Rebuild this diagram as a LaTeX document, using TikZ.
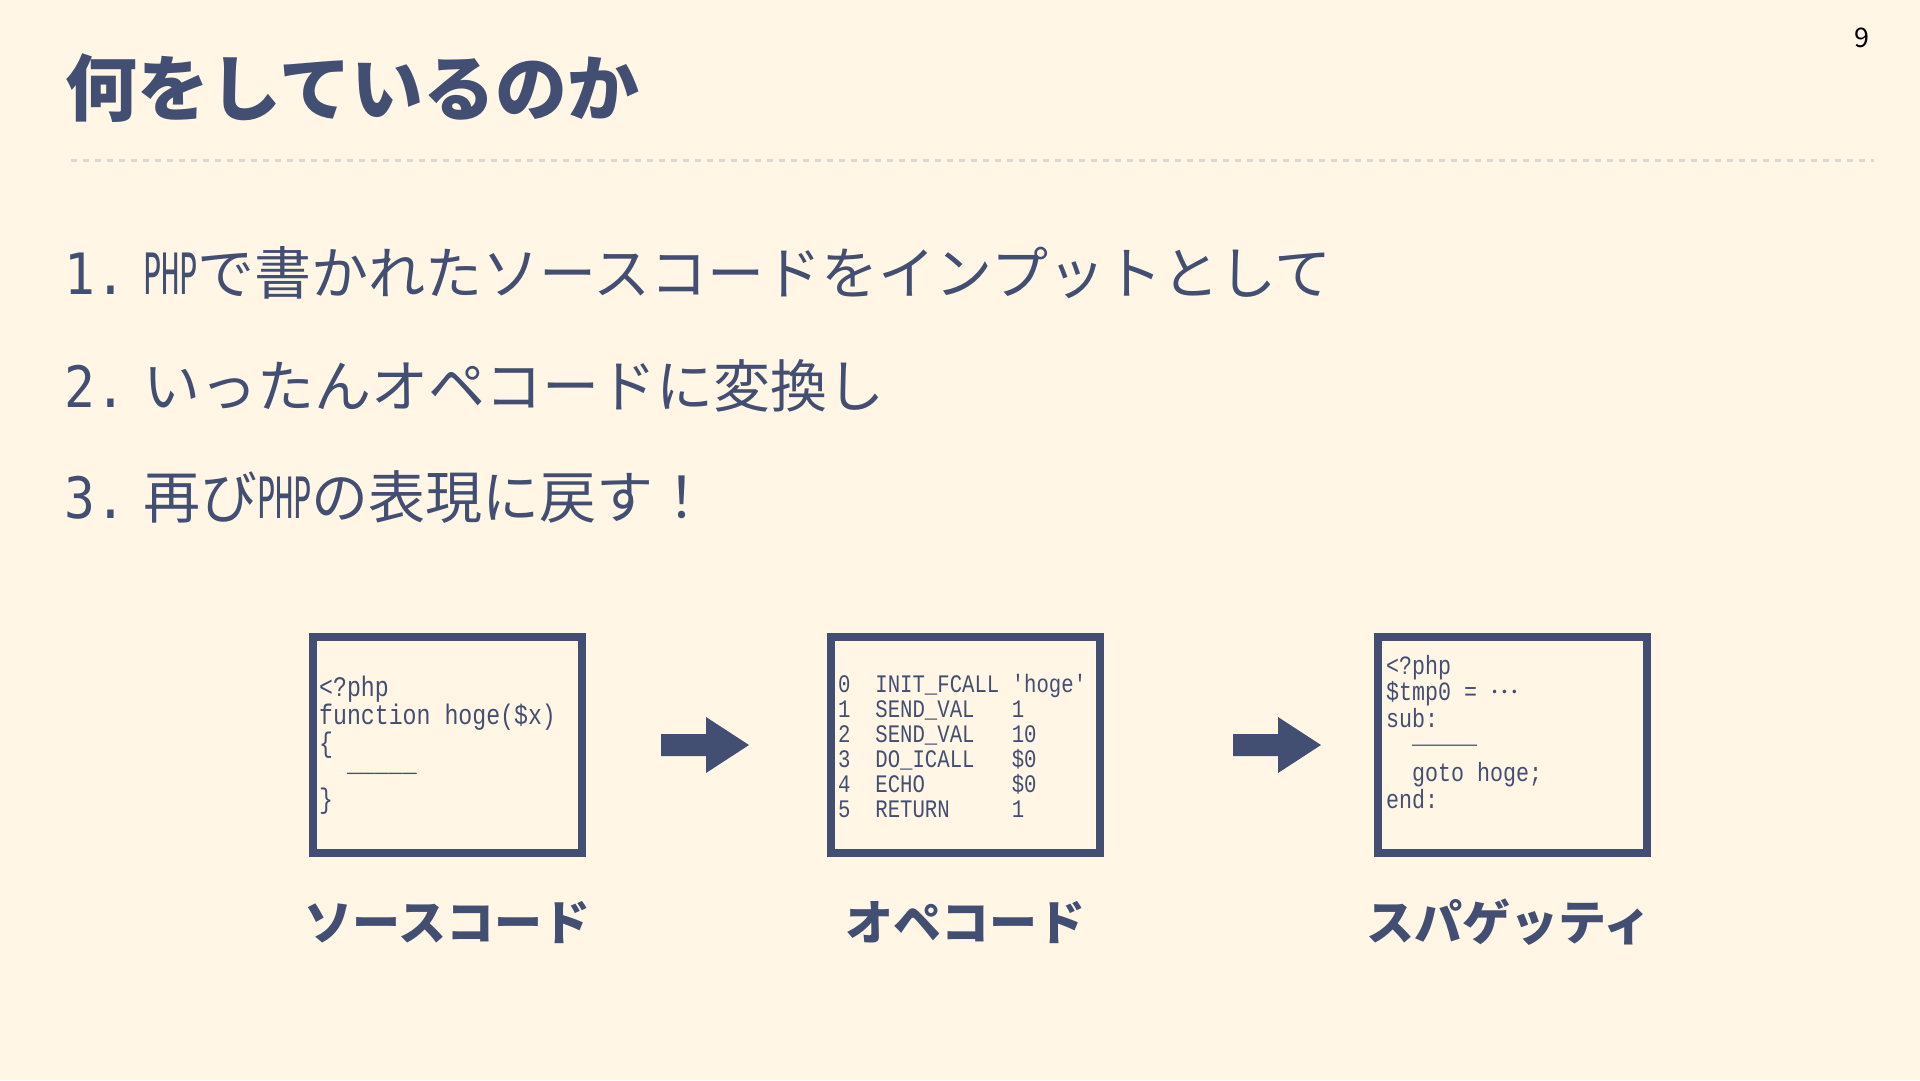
\documentclass[tikz,border=0pt]{standalone}
\usepackage{fontspec}
\setmainfont{Noto Sans CJK JP}
\newfontfamily\codefont{Liberation Mono}[FakeStretch=0.82]
\newfontfamily\listlatin{DejaVu Sans Mono}[FakeStretch=0.53]
\newfontfamily\listnum{DejaVu Sans Mono}[FakeStretch=0.9]
\definecolor{bg}{RGB}{255,246,229}
\definecolor{ink}{RGB}{67,78,115}
\definecolor{rulegray}{RGB}{218,216,210}
\newcommand\codelines[2]{\vtop{\baselineskip=#1\lineskiplimit=-1000pt\lineskip=0pt\relax #2}}
\begin{document}
\begin{tikzpicture}[x=1pt,y=-1pt,
  titletext/.style={anchor=base west,inner sep=0pt,text=ink,font=\bfseries\fontsize{72}{80}\selectfont},
  listitem/.style={anchor=base west,inner sep=0pt,text=ink,font=\fontsize{57}{64}\selectfont},
  pagenum/.style={anchor=base,inner sep=0pt,text=black,font=\fontsize{27}{30}\selectfont},
  codebox/.style={draw=ink,line width=8pt,minimum width=269pt,minimum height=216pt,inner sep=0pt},
  codetext/.style={anchor=base west,inner sep=0pt,text=ink},
  boxlabel/.style={anchor=base,inner sep=0pt,text=ink,font=\bfseries\fontsize{48}{56}\selectfont},
  blockarrow/.style={fill=ink},
  dashrule/.style={draw=rulegray,line width=3pt,dash pattern=on 6pt off 6pt}
]
\fill[bg] (0,0) rectangle (1920,1080);
% title
\node[titletext] (title) at (65,115.5) {何をしているのか};
\coordinate (ruleL) at (71,160);
\coordinate (ruleR) at (1874,160);
\draw[dashrule] (ruleL) -- (ruleR);
\node[pagenum] (pg) at (1862,47) {9};
% list
\node[listitem] (item1) at (64,294) {\makebox[79pt][l]{\listnum 1.}{\listlatin PHP}で書かれたソースコードをインプットとして};
\node[listitem] (item2) at (64,407) {\makebox[79pt][l]{\listnum 2.}いったんオペコードに変換し};
\node[listitem] (item3) at (64,518) {\makebox[79pt][l]{\listnum 3.}再び{\listlatin PHP}の表現に戻す！};
% boxes
\node[codebox] (b1) at (447.5,745) {};
\node[codebox] (b2) at (965.5,745) {};
\node[codebox] (b3) at (1512,745) {};
% code texts
\node[codetext,font=\codefont\fontsize{28.3}{28}\selectfont] (c1) at (319,696)
 {\codelines{28pt}{%
  \hbox{<?php}%
  \hbox{function hoge(\$x)}%
  \hbox{\{}%
  \kern-9pt\hbox{\ \ \_\_\_\_\_}\kern9pt%
  \hbox{\}}}};
\node[codetext,font=\codefont\fontsize{25.2}{25}\selectfont] (c2) at (838,692)
 {\codelines{25pt}{%
  \hbox{0\ \ INIT\_FCALL\ 'hoge'}%
  \hbox{1\ \ SEND\_VAL\ \ \ 1}%
  \hbox{2\ \ SEND\_VAL\ \ \ 10}%
  \hbox{3\ \ DO\_ICALL\ \ \ \$0}%
  \hbox{4\ \ ECHO\ \ \ \ \ \ \ \$0}%
  \hbox{5\ \ RETURN\ \ \ \ \ 1}}};
\node[codetext,font=\codefont\fontsize{26.4}{27}\selectfont] (c3) at (1386,674)
 {\codelines{26.8pt}{%
  \hbox{<?php}%
  \hbox{\$tmp0 = \raisebox{7pt}{\rmfamily …}}%
  \hbox{sub:}%
  \kern-11pt\hbox{\ \ \_\_\_\_\_}\kern11pt%
  \hbox{\ \ goto hoge;}%
  \hbox{end:}}};
% arrows
\coordinate (a1) at (661,745);
\coordinate (a2) at (1233,745);
\fill[blockarrow] (a1) ++(0,-11) -- ++(45,0) -- ++(0,-17) -- ++(43,28) -- ++(-43,28) -- ++(0,-17) -- ++(-45,0) -- cycle;
\fill[blockarrow] (a2) ++(0,-11) -- ++(45,0) -- ++(0,-17) -- ++(43,28) -- ++(-43,28) -- ++(0,-17) -- ++(-45,0) -- cycle;
% labels
\node[boxlabel] (l1) at (447.5,940) {ソースコード};
\node[boxlabel] (l2) at (965.5,940) {オペコード};
\node[boxlabel] (l3) at (1509,940) {スパゲッティ};
\end{tikzpicture}
\end{document}
